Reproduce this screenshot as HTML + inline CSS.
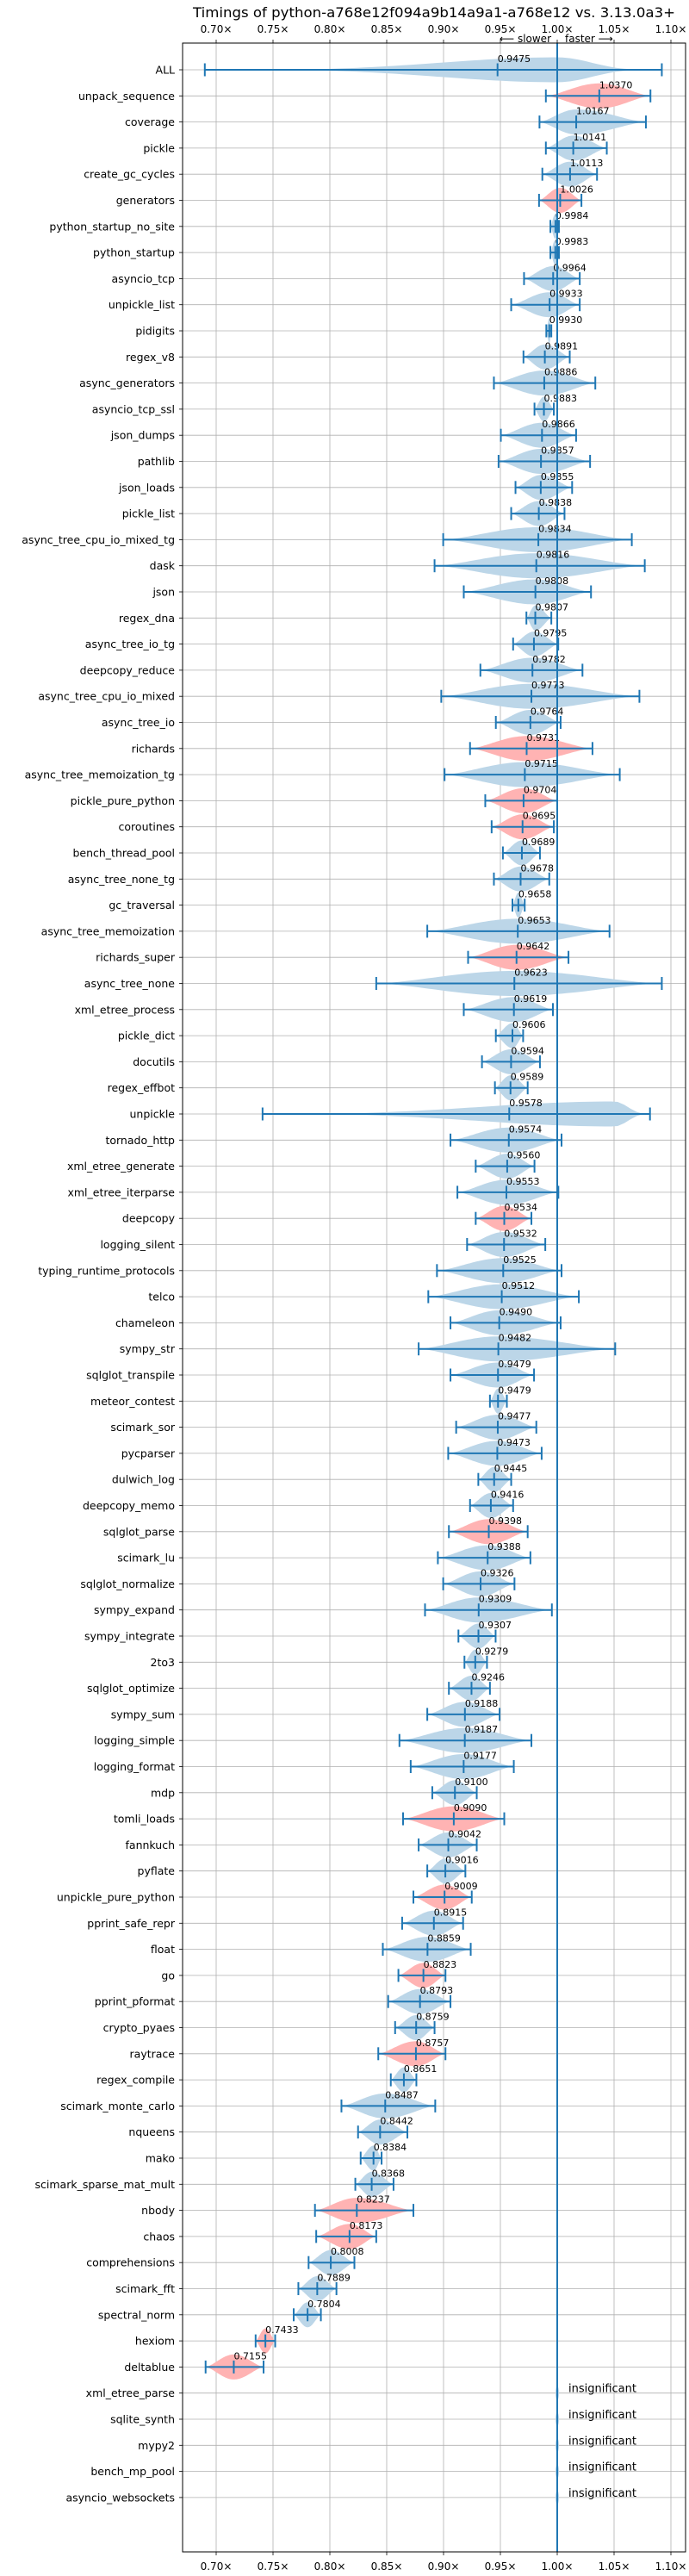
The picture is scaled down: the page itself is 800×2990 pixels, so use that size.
<!DOCTYPE html>
<html><head><meta charset="utf-8"><title>Timings</title>
<style>html,body{margin:0;padding:0;background:#fff}svg{display:block}text{font-family:"DejaVu Sans","Liberation Sans",sans-serif}</style>
</head><body>
<svg id="chart" width="800" height="2990" viewBox="0 0 800 2990" xmlns="http://www.w3.org/2000/svg">
<text x="504" y="20" text-anchor="middle" font-size="16" textLength="560" lengthAdjust="spacingAndGlyphs">Timings of python-a768e12f094a9b14a9a1-a768e12 vs. 3.13.0a3+</text>
<text x="640" y="49" text-anchor="end" font-size="12">⟵ slower</text>
<text x="656" y="49" font-size="12">faster ⟶</text>
<g id="grid"></g>
<g id="marks"></g>
<g id="axes"></g>
</svg>
<script>
const names=["ALL","unpack_sequence","coverage","pickle","create_gc_cycles","generators","python_startup_no_site","python_startup","asyncio_tcp","unpickle_list","pidigits","regex_v8","async_generators","asyncio_tcp_ssl","json_dumps","pathlib","json_loads","pickle_list","async_tree_cpu_io_mixed_tg","dask","json","regex_dna","async_tree_io_tg","deepcopy_reduce","async_tree_cpu_io_mixed","async_tree_io","richards","async_tree_memoization_tg","pickle_pure_python","coroutines","bench_thread_pool","async_tree_none_tg","gc_traversal","async_tree_memoization","richards_super","async_tree_none","xml_etree_process","pickle_dict","docutils","regex_effbot","unpickle","tornado_http","xml_etree_generate","xml_etree_iterparse","deepcopy","logging_silent","typing_runtime_protocols","telco","chameleon","sympy_str","sqlglot_transpile","meteor_contest","scimark_sor","pycparser","dulwich_log","deepcopy_memo","sqlglot_parse","scimark_lu","sqlglot_normalize","sympy_expand","sympy_integrate","2to3","sqlglot_optimize","sympy_sum","logging_simple","logging_format","mdp","tomli_loads","fannkuch","pyflate","unpickle_pure_python","pprint_safe_repr","float","go","pprint_pformat","crypto_pyaes","raytrace","regex_compile","scimark_monte_carlo","nqueens","mako","scimark_sparse_mat_mult","nbody","chaos","comprehensions","scimark_fft","spectral_norm","hexiom","deltablue","xml_etree_parse","sqlite_synth","mypy2","bench_mp_pool","asyncio_websockets"];
const vals=[0.9475,1.0370,1.0167,1.0141,1.0113,1.0026,0.9984,0.9983,0.9964,0.9933,0.9930,0.9891,0.9886,0.9883,0.9866,0.9857,0.9855,0.9838,0.9834,0.9816,0.9808,0.9807,0.9795,0.9782,0.9773,0.9764,0.9731,0.9715,0.9704,0.9695,0.9689,0.9678,0.9658,0.9653,0.9642,0.9623,0.9619,0.9606,0.9594,0.9589,0.9578,0.9574,0.9560,0.9553,0.9534,0.9532,0.9525,0.9512,0.9490,0.9482,0.9479,0.9479,0.9477,0.9473,0.9445,0.9416,0.9398,0.9388,0.9326,0.9309,0.9307,0.9279,0.9246,0.9188,0.9187,0.9177,0.9100,0.9090,0.9042,0.9016,0.9009,0.8915,0.8859,0.8823,0.8793,0.8759,0.8757,0.8651,0.8487,0.8442,0.8384,0.8368,0.8237,0.8173,0.8008,0.7889,0.7804,0.7433,0.7155,null,null,null,null,null];
const lows=[0.690,0.990,0.9844,0.990,0.9869,0.984,0.994,0.994,0.9708,0.9595,0.9904,0.9703,0.9443,0.980,0.9504,0.9484,0.9633,0.9595,0.8997,0.8921,0.9178,0.9729,0.9612,0.9324,0.898,0.946,0.9233,0.9009,0.9367,0.9423,0.9522,0.9443,0.9606,0.8857,0.9216,0.8408,0.9178,0.946,0.9338,0.9452,0.7408,0.9061,0.9283,0.9122,0.9283,0.9207,0.8942,0.8866,0.9061,0.8781,0.9061,0.9408,0.9111,0.9041,0.9306,0.9233,0.9047,0.895,0.8997,0.8837,0.9131,0.9184,0.9047,0.8857,0.8612,0.8711,0.8901,0.8644,0.8781,0.8857,0.8735,0.8636,0.8466,0.8603,0.8513,0.8574,0.8426,0.8536,0.8102,0.8248,0.8271,0.8224,0.7869,0.788,0.7813,0.7723,0.7682,0.7347,0.6907];
const highs=[1.092,1.082,1.078,1.0436,1.035,1.0213,1.0015,1.0015,1.0198,1.0198,0.9948,1.011,1.0335,0.997,1.0166,1.0289,1.0131,1.0064,1.0656,1.077,1.0297,0.9948,1.0009,1.0222,1.0723,1.003,1.031,1.055,1.0,0.997,0.9848,0.993,0.9714,1.046,1.0099,1.092,0.9962,0.970,0.9848,0.974,1.0816,1.0038,0.980,1.001,0.9773,0.9895,1.0038,1.019,1.003,1.051,0.9796,0.9557,0.9816,0.9863,0.9595,0.9612,0.974,0.9764,0.9624,0.9953,0.9458,0.9382,0.9408,0.9493,0.9773,0.9618,0.9292,0.9534,0.9292,0.9192,0.9248,0.9172,0.9239,0.9017,0.9061,0.8921,0.9017,0.8761,0.8927,0.8682,0.8455,0.856,0.8735,0.8408,0.8216,0.8058,0.7921,0.7519,0.7417];
const redRows=["unpack_sequence","generators","richards","pickle_pure_python","coroutines","richards_super","deepcopy","sqlglot_parse","tomli_loads","unpickle_pure_python","go","raytrace","nbody","chaos","hexiom","deltablue"];
const modeOverride={0:1.0,40:1.05};
const xTicks=[0.70,0.75,0.80,0.85,0.90,0.95,1.00,1.05,1.10];
const xTickLabels=["0.70×","0.75×","0.80×","0.85×","0.90×","0.95×","1.00×","1.05×","1.10×"];

const NS="http://www.w3.org/2000/svg";
const L=212,R=796,T=50,B=2962,Y0=81,STEP=30.3;
const X=v=>251+(v-0.70)*1320;
const Y=i=>Y0+i*STEP;
function mk(tag,attrs,parent){const e=document.createElementNS(NS,tag);for(const k in attrs)e.setAttribute(k,attrs[k]);parent.appendChild(e);return e;}
const grid=document.getElementById('grid'),marks=document.getElementById('marks'),axes=document.getElementById('axes');
const BLUE="#1f77b4";
xTicks.forEach((v,i)=>{
  const g=mk('line',{x1:X(v),x2:X(v),y1:T,y2:B,stroke:'#b0b0b0','stroke-width':0.8},grid);
  
  
  const t1=mk('text',{x:X(v),y:38,'text-anchor':'middle','font-size':12},axes);t1.textContent=xTickLabels[i];
  
  
  const t2=mk('text',{x:X(v),y:2983,'text-anchor':'middle','font-size':12},axes);t2.textContent=xTickLabels[i];
  
  
  mk('line',{x1:X(v),x2:X(v),y1:T-4,y2:T,stroke:'#000','stroke-width':0.8},axes);
  mk('line',{x1:X(v),x2:X(v),y1:B,y2:B+4,stroke:'#000','stroke-width':0.8},axes);
});
names.forEach((n,i)=>{
  const y=Y(i);
  const gl=mk('line',{x1:L,x2:R,y1:y,y2:y,stroke:'#b0b0b0','stroke-width':0.8},grid);
  
  
  mk('line',{x1:L-4,x2:L,y1:y,y2:y,stroke:'#000','stroke-width':0.8},axes);
  const t=mk('text',{x:L-9,y:y+4.5,'text-anchor':'end','font-size':12.5},axes);t.textContent=n;
  
  
  const v=vals[i];
  if(v===null){
    const e=mk('ellipse',{cx:X(1),cy:y,rx:2,ry:8,fill:'#bcd6e8'},marks);
    
    
    const it=mk('text',{x:X(1)+13,y:y-1,'font-size':13},marks);it.textContent='insignificant';
    
    
    return;
  }
  const lo=lows[i],hi=highs[i],m=(modeOverride[i]!==undefined)?modeOverride[i]:v;
  const p=(i===0)?4:(i===40?3:1.5);const H=14.5,N=60;
  const top=[],bot=[];
  for(let k=0;k<=N;k++){
    const x=lo+(hi-lo)*k/N;let t;
    if(x<=m)t=(x-lo)/(m-lo||1);else t=(hi-x)/(hi-m||1);
    const h=H*Math.pow(Math.sin(Math.max(0,Math.min(1,t))*Math.PI/2),p);
    top.push(X(x).toFixed(1)+','+(y-h).toFixed(1));bot.unshift(X(x).toFixed(1)+','+(y+h).toFixed(1));
  }
  const red=redRows.includes(n);
  const vp=mk('polygon',{points:top.concat(bot).join(' '),fill:red?'#ffb3b3':'#bcd6e8'},marks);
  
  
  const wl=mk('line',{x1:X(lo),x2:X(hi),y1:y,y2:y,stroke:BLUE,'stroke-width':2},marks);
  
  
  [lo,hi,v].forEach(c=>{const cl=mk('line',{x1:X(c),x2:X(c),y1:y-7.5,y2:y+7.5,stroke:BLUE,'stroke-width':2},marks);
    
    });
  const vt=mk('text',{x:X(v),y:y-9,'font-size':11},marks);vt.textContent=v.toFixed(4);
  
  
});
const ref=mk('line',{x1:X(1),x2:X(1),y1:T,y2:B,stroke:BLUE,'stroke-width':2},marks);


const box=mk('rect',{x:L,y:T,width:R-L,height:B-T,fill:'none',stroke:'#000','stroke-width':1},axes);


</script>
</body></html>
